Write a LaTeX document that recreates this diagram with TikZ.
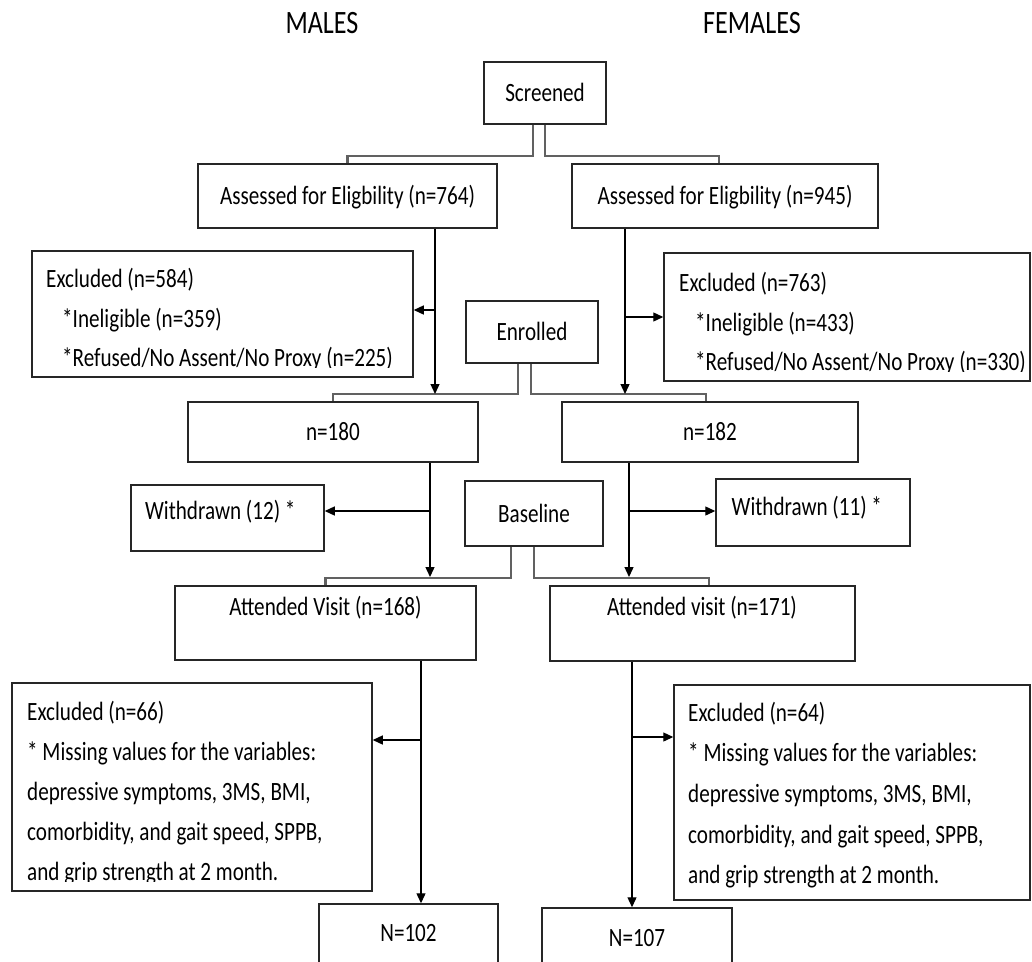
\documentclass[tikz,border=0pt]{standalone}
\usepackage{fontspec}
\setmainfont{Carlito}[FakeStretch=0.8]
\usetikzlibrary{arrows.meta}
\newcommand{\fcbody}{\fontsize{26.4}{40}\selectfont}
\newcommand{\fctitle}{\fontsize{32.6}{40}\selectfont}
\tikzset{
  box/.style={draw=black!85, line width=1.5pt, inner sep=0pt,
              text height=17pt, text depth=0pt, font=\fcbody},
  ln/.style={anchor=base west, inner sep=0pt, font=\fcbody},
  lc/.style={anchor=base, inner sep=0pt, font=\fcbody},
  ttl/.style={anchor=base, inner sep=0pt, font=\fctitle},
  arr/.style={draw=black, line width=1.3pt,
              -{Triangle[length=10pt,width=9pt]}},
  fork/.style={draw=black!62, line width=2.4pt}
}
\begin{document}
\begin{tikzpicture}[x=1pt, y=-1pt]
\useasboundingbox (0,0) rectangle (1032,961);
\fill[white] (0,0) rectangle (1032,961);
\clip (0,0) rectangle (1032,961);

% column headings
\node[ttl] (tM) at (322,33.3) {MALES};
\node[ttl] (tF) at (752,33.3) {FEMALES};

% boxes
\node[box, minimum width=122pt, minimum height=62pt] (scr) at (545,93) {Screened};
\node[box, minimum width=299pt, minimum height=64pt] (assL) at (347.5,196) {Assessed for Eligbility (n=764)};
\node[box, minimum width=306pt, minimum height=64pt] (assR) at (725,196) {Assessed for Eligbility (n=945)};
\node[box, minimum width=381pt, minimum height=126pt] (exL) at (222.5,314) {};
\node[box, minimum width=366pt, minimum height=128pt] (exR) at (847,317) {};
\node[box, minimum width=132pt, minimum height=62pt] (enr) at (532,332) {Enrolled};
\node[box, minimum width=290pt, minimum height=60pt] (n180) at (333,432) {n=180};
\node[box, minimum width=296pt, minimum height=60pt] (n182) at (710,432) {n=182};
\node[box, minimum width=193pt, minimum height=66pt] (wdL) at (227.5,518) {};
\node[box, minimum width=138pt, minimum height=65pt] (base) at (534,513.5) {Baseline};
\node[box, minimum width=194pt, minimum height=67pt] (wdR) at (813,512.5) {};
\node[box, minimum width=301pt, minimum height=74pt] (attL) at (325.5,623) {};
\node[box, minimum width=305pt, minimum height=75pt] (attR) at (702.5,623.5) {};
\node[box, minimum width=360pt, minimum height=208pt] (ex2L) at (192,787) {};
\node[box, minimum width=356pt, minimum height=215pt] (ex2R) at (852,792.5) {};
\node[box, minimum width=179pt, minimum height=86pt] (nL) at (408.5,947) {};
\node[box, minimum width=190pt, minimum height=82pt] (nR) at (637,949) {};

% box texts
\node[ln] at (145,519.5) {Withdrawn (12) *};
\node[ln] at (731.5,515) {Withdrawn (11) *};
\node[lc] at (325.5,615) {Attended Visit (n=168)};
\node[lc] at (702,615) {Attended visit (n=171)};
\node[lc] at (408.5,941.5) {N=102};
\node[lc] at (637,946.5) {N=107};

\begin{scope}
  \clip (32,251) rectangle (413,367);
  \node[ln] at (46,287) {Excluded (n=584)};
  \node[ln] at (62,327) {*Ineligible (n=359)};
  \node[ln] at (62,366.5) {*Refused/No Assent/No Proxy (n=225)};
\end{scope}
\begin{scope}
  \clip (664,253) rectangle (1032,371);
  \node[ln] at (679,291) {Excluded (n=763)};
  \node[ln] at (695,331) {*Ineligible (n=433)};
  \node[ln] at (695,370.5) {*Refused/No Assent/No Proxy (n=330)};
\end{scope}
\begin{scope}
  \clip (12,683) rectangle (372,881);
  \node[ln] at (27,720) {Excluded (n=66)};
  \node[ln] at (27,760) {* Missing values for the variables:};
  \node[ln] at (27,800) {depressive symptoms, 3MS, BMI,};
  \node[ln] at (27,840) {comorbidity, and gait speed, SPPB,};
  \node[ln] at (27,880) {and grip strength at 2 month.};
\end{scope}
\node[ln] at (688,721) {Excluded (n=64)};
\node[ln] at (688,761.5) {* Missing values for the variables:};
\node[ln] at (688,802) {depressive symptoms, 3MS, BMI,};
\node[ln] at (688,843.5) {comorbidity, and gait speed, SPPB,};
\node[ln] at (688,883.5) {and grip strength at 2 month.};

% split connectors
\coordinate (f1) at (533,156);
\coordinate (f2) at (545,156);
\coordinate (g2) at (719,164);
\draw[fork] (scr.south -| f1) -- (f1) -| (assL.north);
\draw[fork] (scr.south -| f2) -- (f2) -| (assR.north -| g2);

\coordinate (f3) at (518,394);
\coordinate (f4) at (531,394);
\coordinate (g4) at (706,402);
\draw[fork] (enr.south -| f3) -- (f3) -| (n180.north);
\draw[fork] (enr.south -| f4) -- (f4) -| (n182.north -| g4);

\coordinate (f5) at (511,578);
\coordinate (f6) at (534,578);
\coordinate (g6) at (709,586);
\draw[fork] (base.south -| f5) -- (f5) -| (attL.north);
\draw[fork] (base.south -| f6) -- (f6) -| (attR.north -| g6);

% flow arrows, males
\coordinate (aL1) at (435,394);
\coordinate (bL1) at (435,310);
\draw[arr] (assL.south -| aL1) -- (aL1);
\draw[arr] (bL1) -- (bL1 -| exL.east);
\coordinate (aL2) at (430,577);
\coordinate (bL2) at (430,511);
\draw[arr] (n180.south -| aL2) -- (aL2);
\draw[arr] (bL2) -- (bL2 -| wdL.east);
\coordinate (bL3) at (421,740);
\draw[arr] (attL.south -| bL3) -- (nL.north -| bL3);
\draw[arr] (bL3) -- (bL3 -| ex2L.east);

% flow arrows, females
\coordinate (aR1) at (625,394);
\coordinate (bR1) at (625,317);
\draw[arr] (assR.south -| aR1) -- (aR1);
\draw[arr] (bR1) -- (bR1 -| exR.west);
\coordinate (aR2) at (629,577);
\coordinate (bR2) at (629,511);
\draw[arr] (n182.south -| aR2) -- (aR2);
\draw[arr] (bR2) -- (bR2 -| wdR.west);
\coordinate (bR3) at (632,737);
\draw[arr] (attR.south -| bR3) -- (nR.north -| bR3);
\draw[arr] (bR3) -- (bR3 -| ex2R.west);
\end{tikzpicture}
\end{document}
